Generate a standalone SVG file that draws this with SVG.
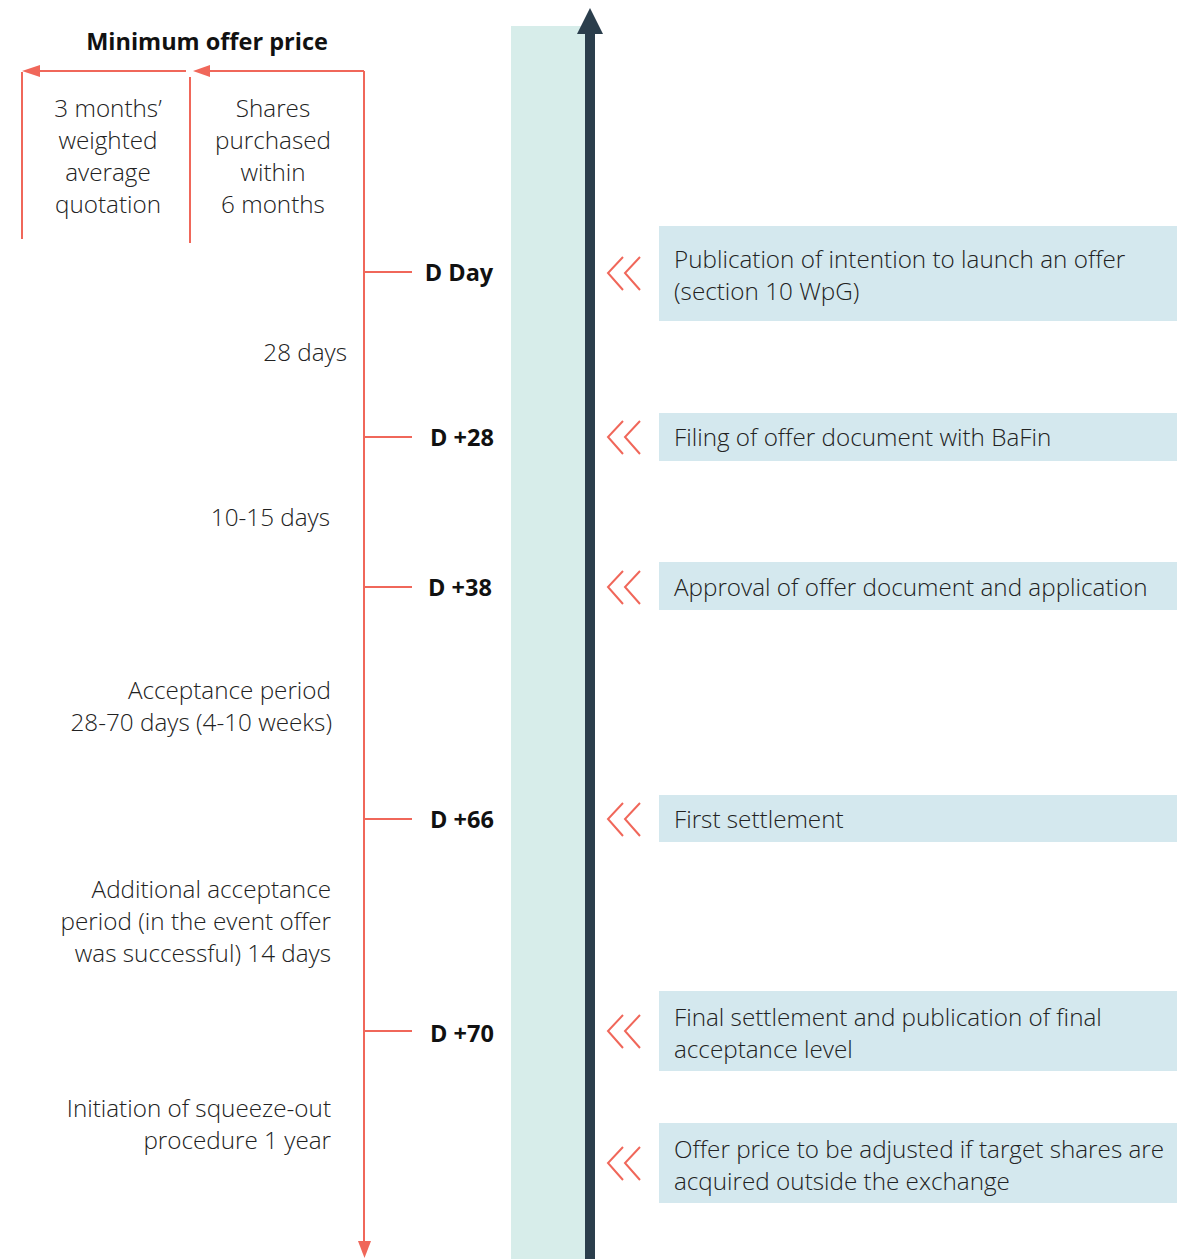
<svg xmlns="http://www.w3.org/2000/svg" width="1177" height="1259" viewBox="0 0 1177 1259">
<defs>
<style>
.t{font-family:"Open Sans","Noto Sans","Liberation Sans",sans-serif;font-size:24.25px;font-weight:300;fill:#222}
.b{font-family:"Open Sans","Noto Sans","Liberation Sans",sans-serif;font-size:23.5px;font-weight:bold;fill:#111}
.r{stroke:#F0675A;stroke-width:2;fill:none}
.box{fill:#D4E8EE}
.chev{stroke:#F0675A;stroke-width:2;fill:none}
</style>
</defs>
<rect x="0" y="0" width="1177" height="1259" fill="#fff"/>
<g id="timeline-band">
<rect x="511" y="26" width="74" height="1233" fill="#D7EDEA"/>
<rect x="585" y="32" width="10" height="1227" fill="#2B3E4C"/>
<polygon points="577,34 590,8 603,34" fill="#2B3E4C"/>
</g>
<g id="connectors">
<line class="r" x1="364" y1="71" x2="364" y2="1242"/>
<polygon points="358,1241 371,1241 364.5,1258" fill="#F0675A"/>
<line class="r" x1="364" y1="71" x2="208" y2="71"/>
<polygon points="193,71 210,65 210,77" fill="#F0675A"/>
<line class="r" x1="186" y1="71" x2="38" y2="71"/>
<polygon points="22,71 40,65 40,77" fill="#F0675A"/>
<line class="r" x1="22" y1="72" x2="22" y2="239"/>
<line class="r" x1="190" y1="77" x2="190" y2="243"/>
<line class="r" x1="364" y1="272" x2="412" y2="272"/>
<line class="r" x1="364" y1="437" x2="412" y2="437"/>
<line class="r" x1="364" y1="587" x2="412" y2="587"/>
<line class="r" x1="364" y1="819" x2="412" y2="819"/>
<line class="r" x1="364" y1="1031" x2="412" y2="1031"/>
</g>
<g id="title"><text class="b" x="207" y="50" text-anchor="middle">Minimum offer price</text></g>
<g id="weighted-average">
<text class="t" x="108" y="117" text-anchor="middle">3 months’</text>
<text class="t" x="108" y="149" text-anchor="middle">weighted</text>
<text class="t" x="108" y="181" text-anchor="middle">average</text>
<text class="t" x="108" y="213" text-anchor="middle">quotation</text>
</g>
<g id="shares-purchased">
<text class="t" x="273" y="117" text-anchor="middle">Shares</text>
<text class="t" x="273" y="149" text-anchor="middle">purchased</text>
<text class="t" x="273" y="181" text-anchor="middle">within</text>
<text class="t" x="273" y="213" text-anchor="middle">6 months</text>
</g>
<g id="periods">
<text class="t" x="347" y="361" text-anchor="end">28 days</text>
<text class="t" x="330" y="526" text-anchor="end">10-15 days</text>
<text class="t" x="331" y="699" text-anchor="end">Acceptance period</text>
<text class="t" x="332" y="731" text-anchor="end">28-70 days (4-10 weeks)</text>
<text class="t" x="331" y="898" text-anchor="end">Additional acceptance</text>
<text class="t" x="331" y="930" text-anchor="end">period (in the event offer</text>
<text class="t" x="331" y="962" text-anchor="end">was successful) 14 days</text>
<text class="t" x="331" y="1117" text-anchor="end">Initiation of squeeze-out</text>
<text class="t" x="331" y="1149" text-anchor="end">procedure 1 year</text>
</g>
<g id="day-labels">
<text class="b" x="459" y="281" text-anchor="middle">D Day</text>
<text class="b" x="462" y="446" text-anchor="middle">D +28</text>
<text class="b" x="460" y="596" text-anchor="middle">D +38</text>
<text class="b" x="462" y="828" text-anchor="middle">D +66</text>
<text class="b" x="462" y="1042" text-anchor="middle">D +70</text>
</g>
<g id="chevrons">
<polyline class="chev" points="623,257 608,273 623,290"/><polyline class="chev" points="640,257 625,273 640,290"/>
<polyline class="chev" points="623,421 608,437 623,454"/><polyline class="chev" points="640,421 625,437 640,454"/>
<polyline class="chev" points="623,571 608,587 623,604"/><polyline class="chev" points="640,571 625,587 640,604"/>
<polyline class="chev" points="623,803 608,819 623,836"/><polyline class="chev" points="640,803 625,819 640,836"/>
<polyline class="chev" points="623,1015 608,1031 623,1048"/><polyline class="chev" points="640,1015 625,1031 640,1048"/>
<polyline class="chev" points="623,1147 608,1163 623,1180"/><polyline class="chev" points="640,1147 625,1163 640,1180"/>
</g>
<g id="event-1"><rect class="box" x="659" y="226" width="518" height="95"/>
<text class="t" x="674" y="268">Publication of intention to launch an offer</text>
<text class="t" x="674" y="300">(section 10 WpG)</text></g>
<g id="event-2"><rect class="box" x="659" y="413" width="518" height="48"/>
<text class="t" x="674" y="446">Filing of offer document with BaFin</text></g>
<g id="event-3"><rect class="box" x="659" y="562" width="518" height="48"/>
<text class="t" x="674" y="596">Approval of offer document and application</text></g>
<g id="event-4"><rect class="box" x="659" y="795" width="518" height="47"/>
<text class="t" x="674" y="828">First settlement</text></g>
<g id="event-5"><rect class="box" x="659" y="991" width="518" height="80"/>
<text class="t" x="674" y="1026">Final settlement and publication of final</text>
<text class="t" x="674" y="1058">acceptance level</text></g>
<g id="event-6"><rect class="box" x="659" y="1123" width="518" height="80"/>
<text class="t" x="674" y="1158">Offer price to be adjusted if target shares are</text>
<text class="t" x="674" y="1190">acquired outside the exchange</text></g>
</svg>
